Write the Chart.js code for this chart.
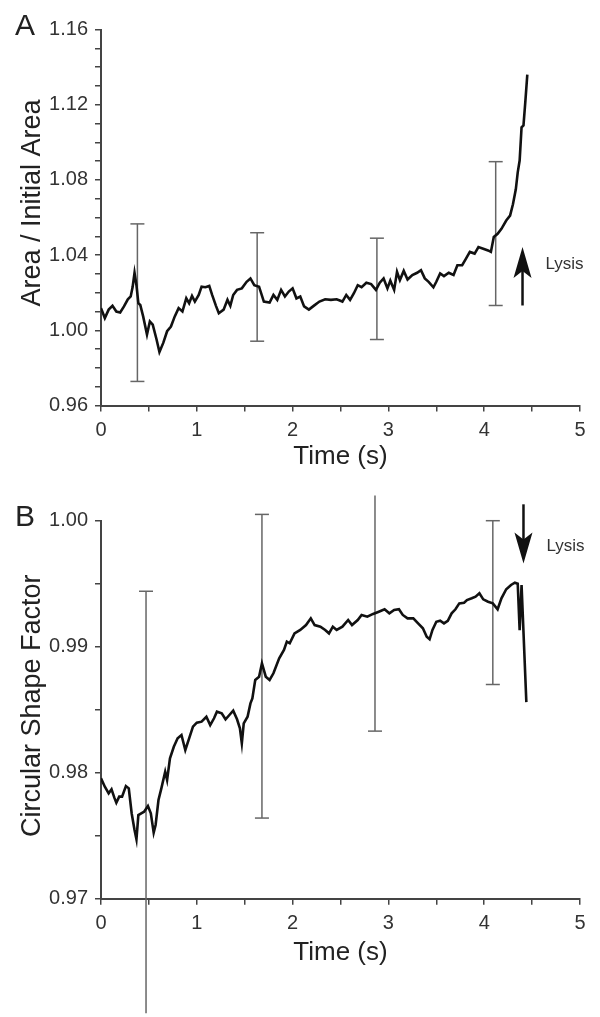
<!DOCTYPE html>
<html>
<head>
<meta charset="utf-8">
<script src="https://cdn.jsdelivr.net/npm/chart.js@4.4.1/dist/chart.umd.min.js"></script>
<style>
html, body { margin: 0; padding: 0; background: #fff; }
#wrap { position: relative; width: 600px; height: 1017px; }
#chartA { position: absolute; left: 0; top: 0; }
#chartB { position: absolute; left: 0; top: 480px; }
</style>
</head>
<body>
<div id="wrap">
  <canvas id="chartA" width="600" height="480"></canvas>
  <canvas id="chartB" width="600" height="537"></canvas>
</div>
<script>
// Panel A: area / initial area vs time
const timeA = [0, 0.04, 0.08, 0.12, 0.16, 0.20, 0.24, 0.28, 0.31, 0.33, 0.35, 0.37, 0.39, 0.41, 0.44, 0.48,
    0.51, 0.54, 0.58, 0.61, 0.65, 0.69, 0.73, 0.77, 0.81, 0.85, 0.89, 0.92, 0.95, 0.98, 1.02, 1.05, 1.09,
    1.13, 1.16, 1.20, 1.23, 1.28, 1.32, 1.35, 1.38, 1.42, 1.47, 1.52, 1.56, 1.60, 1.65, 1.70, 1.76, 1.80,
    1.84, 1.88, 1.92, 1.96, 2.00, 2.04, 2.08, 2.12, 2.17, 2.22, 2.28, 2.34, 2.40, 2.46, 2.52, 2.56, 2.60,
    2.64, 2.68, 2.72, 2.77, 2.82, 2.87, 2.91, 2.95, 2.99, 3.02, 3.06, 3.09, 3.12, 3.16, 3.20, 3.25, 3.30,
    3.34, 3.38, 3.42, 3.47, 3.50, 3.54, 3.58, 3.63, 3.68, 3.72, 3.77, 3.81, 3.85, 3.90, 3.94, 3.99, 4.04,
    4.07, 4.10, 4.14, 4.18, 4.23, 4.27, 4.30, 4.33, 4.35, 4.37, 4.39, 4.41, 4.43, 4.45];
const areaA = [1.0118, 1.0065, 1.011, 1.013, 1.010, 1.0095, 1.0127, 1.0165, 1.018, 1.023, 1.0306, 1.024, 1.0144,
    1.0135, 1.0074, 0.9977, 1.0047, 1.003, 0.9951, 0.9884, 0.9933, 0.9995, 1.002, 1.0074, 1.0118, 1.010,
    1.017, 1.0144, 1.0183, 1.0153, 1.0188, 1.0232, 1.0229, 1.0236, 1.0188, 1.013, 1.0091, 1.011, 1.0162,
    1.013, 1.0188, 1.0215, 1.0223, 1.0258, 1.0276, 1.024, 1.0232, 1.0153, 1.0148, 1.0188, 1.0162, 1.0215,
    1.018, 1.0206, 1.0223, 1.017, 1.018, 1.0127, 1.011, 1.013, 1.0153, 1.0165, 1.0162, 1.0165, 1.0153,
    1.0188, 1.0162, 1.0197, 1.024, 1.0229, 1.0253, 1.0246, 1.0215, 1.0253, 1.0276, 1.0223, 1.0264, 1.0215,
    1.0311, 1.0267, 1.0316, 1.027, 1.0294, 1.0306, 1.032, 1.0276, 1.0258, 1.0229, 1.0258, 1.0302, 1.0288,
    1.0306, 1.0294, 1.0346, 1.0346, 1.0381, 1.0417, 1.0408, 1.0443, 1.0434, 1.0425, 1.0417, 1.0496, 1.0513,
    1.054, 1.0584, 1.061, 1.067, 1.075, 1.084, 1.0903, 1.108, 1.109, 1.122, 1.136];
const errTimeA = [0.38, 1.63, 2.88, 4.12];
const errLowA = [0.9728, 0.9942, 0.9951, 1.0132];
const errHighA = [1.0566, 1.0519, 1.0490, 1.0897];
const arrowA = { x: 4.40, tail: 1.0132, tip: 1.0443 };

// Panel B: circular shape factor vs time
const timeB = [0, 0.04, 0.08, 0.11, 0.14, 0.16, 0.19, 0.22, 0.26, 0.29, 0.32, 0.35, 0.37, 0.39, 0.42, 0.45,
    0.49, 0.52, 0.55, 0.57, 0.60, 0.63, 0.67, 0.69, 0.72, 0.76, 0.80, 0.84, 0.88, 0.92, 0.96, 1.00, 1.05,
    1.10, 1.14, 1.18, 1.21, 1.26, 1.30, 1.34, 1.38, 1.42, 1.45, 1.47, 1.49, 1.53, 1.56, 1.58, 1.61, 1.65,
    1.68, 1.72, 1.76, 1.80, 1.86, 1.91, 1.94, 1.97, 2.02, 2.08, 2.14, 2.19, 2.23, 2.29, 2.34, 2.38, 2.42,
    2.46, 2.52, 2.58, 2.62, 2.68, 2.72, 2.78, 2.84, 2.90, 2.96, 3.01, 3.06, 3.11, 3.15, 3.20, 3.26, 3.31,
    3.36, 3.40, 3.43, 3.46, 3.50, 3.54, 3.58, 3.62, 3.66, 3.70, 3.74, 3.79, 3.82, 3.87, 3.91, 3.95, 3.99,
    4.04, 4.09, 4.14, 4.18, 4.23, 4.28, 4.32, 4.35, 4.37, 4.39, 4.44];
const shapeB = [0.97956, 0.97889, 0.97836, 0.97868, 0.9780, 0.97762, 0.9781, 0.9781, 0.97894, 0.97876,
    0.97678, 0.97545, 0.97471, 0.97664, 0.97678, 0.9769, 0.97736, 0.97678, 0.97524, 0.97585, 0.97783,
    0.97876, 0.98008, 0.97942, 0.98114, 0.98206, 0.98273, 0.98299, 0.9818, 0.98273, 0.98365, 0.98397,
    0.98405, 0.98444, 0.98378, 0.98432, 0.98484, 0.98471, 0.98424, 0.98458, 0.98492, 0.98424, 0.98352,
    0.98233, 0.98392, 0.98444, 0.9855, 0.9859, 0.98736, 0.98762, 0.98868, 0.98762, 0.98736, 0.98789,
    0.98908, 0.98974, 0.9904, 0.99027, 0.99106, 0.99133, 0.99172, 0.99225, 0.99172, 0.99159, 0.99133,
    0.99106, 0.99159, 0.99133, 0.99159, 0.99212, 0.99172, 0.99212, 0.99252, 0.99238, 0.9926, 0.99278,
    0.99297, 0.99265, 0.99291, 0.99297, 0.99252, 0.99225, 0.99225, 0.99185, 0.99146, 0.99079, 0.99059,
    0.99133, 0.99198, 0.99206, 0.99185, 0.99206, 0.99265, 0.99297, 0.99344, 0.99349, 0.9937, 0.99384,
    0.99397, 0.99424, 0.99376, 0.99357, 0.99344, 0.99297, 0.99384, 0.99456, 0.9949, 0.99508, 0.9950,
    0.9913, 0.9949, 0.9856];
const errTimeB = [0.47, 1.68, 2.86, 4.09];
const errLowB = [0.9609, 0.9764, 0.9833, 0.9870];
const errHighB = [0.9944, 1.0005, 1.0020, 1.0000];
const arrowB = { x: 4.41, tail: 1.0013, tip: 0.9966 };

const xTicks = [0, 1, 2, 3, 4, 5];

const FONT = '"Liberation Sans", Arial, Helvetica, sans-serif';
const AXIS = '#444';
const INK = '#111';
const BAR = '#666';

function pts(xs, ys) {
    return xs.map((x, i) => ({ x, y: ys[i] }));
}

function errorBars(ts, lo, hi) {
    return ts.map((t, i) => ({
        data: [{ x: t, y: lo[i] }, { x: t, y: hi[i] }],
        borderColor: BAR,
        borderWidth: 1.5,
        pointStyle: 'line',
        pointRadius: 7,
        pointBorderWidth: 1.5,
        pointBorderColor: BAR,
        clip: false
    }));
}

function isMultiple(v, step) {
    const r = v / step;
    return Math.abs(r - Math.round(r)) < 1e-6;
}

// panel letter, rotated y title, lysis arrow + label
const decor = {
    id: 'decor',
    afterDatasetsDraw(chart, args, o) {
        const { ctx, chartArea: ca, scales: { x, y } } = chart;
        ctx.save();

        ctx.fillStyle = '#222';
        ctx.font = '30px ' + FONT;
        ctx.textAlign = 'left';
        ctx.textBaseline = 'alphabetic';
        ctx.fillText(o.letter, 15, ca.top + 5.5);

        ctx.save();
        ctx.translate(33, (ca.top + ca.bottom) / 2 + o.titleShift);
        ctx.rotate(-Math.PI / 2);
        ctx.font = '27px ' + FONT;
        ctx.textAlign = 'center';
        ctx.textBaseline = 'middle';
        ctx.fillText(o.yTitle, 0, 0);
        ctx.restore();

        const ax = x.getPixelForValue(o.arrow.x);
        const y0 = y.getPixelForValue(o.arrow.tail);
        const y1 = y.getPixelForValue(o.arrow.tip);
        const dir = Math.sign(y1 - y0);
        ctx.strokeStyle = INK;
        ctx.fillStyle = INK;
        ctx.lineWidth = 2.5;
        ctx.beginPath();
        ctx.moveTo(ax, y0);
        ctx.lineTo(ax, y1 - dir * 20);
        ctx.stroke();
        ctx.beginPath();
        ctx.moveTo(ax, y1);
        ctx.lineTo(ax - 9, y1 - dir * 31);
        ctx.lineTo(ax, y1 - dir * 24);
        ctx.lineTo(ax + 9, y1 - dir * 31);
        ctx.closePath();
        ctx.fill();

        ctx.fillStyle = '#333';
        ctx.font = '17px ' + FONT;
        ctx.textAlign = 'left';
        ctx.textBaseline = 'middle';
        ctx.fillText('Lysis', ax + 23, y1 - dir * 17);
        ctx.restore();
    }
};

function makeChart(id, cfg) {
    const { series, bars, yMin, yMax, yStep, yLabelStep, pad, xHeight, decorOpts } = cfg;
    return new Chart(document.getElementById(id), {
        type: 'line',
        data: {
            datasets: [{
                data: series,
                borderColor: INK,
                borderWidth: 2.6,
                pointRadius: 0,
                tension: 0,
                fill: false
            }, ...bars]
        },
        options: {
            responsive: false,
            devicePixelRatio: 1,
            animation: false,
            events: [],
            layout: { padding: pad },
            plugins: {
                legend: { display: false },
                tooltip: { enabled: false },
                decor: decorOpts
            },
            scales: {
                x: {
                    type: 'linear',
                    min: 0,
                    max: 5,
                    afterFit(s) { s.height = xHeight; s.paddingLeft = 0; s.paddingRight = 0; },
                    grid: { drawOnChartArea: false, tickLength: 6, color: AXIS, lineWidth: 1.5 },
                    border: { display: true, color: AXIS, width: 2 },
                    ticks: {
                        stepSize: 0.5,
                        autoSkip: false,
                        maxRotation: 0,
                        padding: 7,
                        color: '#333',
                        font: { family: FONT, size: 20 },
                        callback: v => xTicks.includes(v) ? String(v) : ''
                    },
                    title: {
                        display: true,
                        text: 'Time (s)',
                        color: '#222',
                        padding: 0,
                        font: { family: FONT, size: 26 }
                    }
                },
                y: {
                    min: yMin,
                    max: yMax,
                    afterFit(s) { s.width = 101; s.paddingTop = 0; s.paddingBottom = 0; },
                    grid: { drawOnChartArea: false, tickLength: 6, color: AXIS, lineWidth: 1.5 },
                    border: { display: true, color: AXIS, width: 2 },
                    ticks: {
                        stepSize: yStep,
                        autoSkip: false,
                        padding: 7,
                        color: '#333',
                        font: { family: FONT, size: 20 },
                        callback: v => isMultiple(v, yLabelStep) ? v.toFixed(2) : ''
                    }
                }
            }
        },
        plugins: [decor]
    });
}

makeChart('chartA', {
    series: pts(timeA, areaA),
    bars: errorBars(errTimeA, errLowA, errHighA),
    yMin: 0.96, yMax: 1.16, yStep: 0.01, yLabelStep: 0.04,
    pad: { left: 0, top: 29.5, right: 20, bottom: 8 },
    xHeight: 66.5,
    decorOpts: { letter: 'A', yTitle: 'Area / Initial Area', titleShift: -14.5, arrow: arrowA }
});

makeChart('chartB', {
    series: pts(timeB, shapeB),
    bars: errorBars(errTimeB, errLowB, errHighB),
    yMin: 0.97, yMax: 1.00, yStep: 0.005, yLabelStep: 0.01,
    pad: { left: 0, top: 40.7, right: 20, bottom: 49 },
    xHeight: 69.3,
    decorOpts: { letter: 'B', yTitle: 'Circular Shape Factor', titleShift: -4, arrow: arrowB }
});
</script>
</body>
</html>
